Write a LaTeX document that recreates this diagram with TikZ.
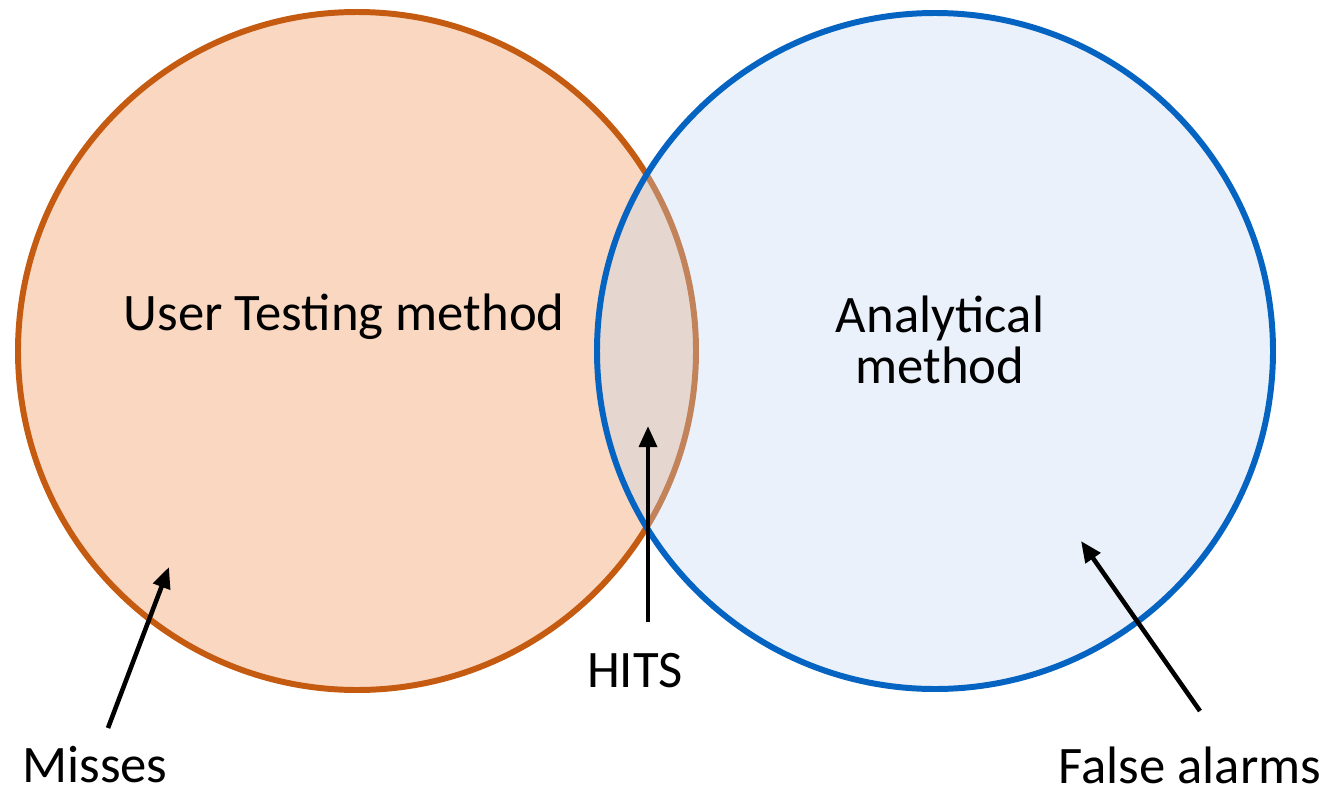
\documentclass[tikz,border=0pt]{standalone}
\usepackage{fontspec}
\setmainfont{Carlito}
\usetikzlibrary{arrows.meta}
\definecolor{usrfill}{RGB}{249,215,192}
\definecolor{usrline}{RGB}{197,90,17}
\definecolor{anafill}{RGB}{190,214,240}
\definecolor{analine}{RGB}{5,99,193}
\tikzset{
	lbl/.style={font=\fontsize{30}{28.5}\selectfont, inner sep=0pt, anchor=base},
	ptr/.style={line width=2.6pt, -{Triangle[length=12pt,width=10pt]}},
	ring/.style={line width=3.4pt}
}
\begin{document}
\begin{tikzpicture}[x=0.02cm, y=-0.02cm]
\useasboundingbox (0,0) rectangle (1326,788);
% the two sets
\draw[ring, usrline, fill=usrfill] (357,351) circle[radius=339];
\draw[ring, analine, fill=anafill, fill opacity=0.33] (935,351) circle[radius=338];
% labels
\node[lbl] (usr) at (344,330) {User Testing method};
\node[lbl, align=center] (ana) at (940,383) {Analytical\\method};
\node[lbl] (hits) at (635,687) {HITS};
\node[lbl, text depth=0pt] (miss) at (95,782) {Misses};
\node[lbl, text depth=0pt] (fa) at (1190,783) {False alarms};
% where the arrows point
\coordinate (misstip) at (169,567);
\coordinate (hitstip) at (648,426);
\coordinate (fatip) at (1081,541);
\draw[ptr] (108,728) -- (misstip);
\draw[ptr] (hits.north -| hitstip) ++(0,-30) -- (hitstip);
\draw[ptr] (1200,711) -- (fatip);
\end{tikzpicture}
\end{document}
